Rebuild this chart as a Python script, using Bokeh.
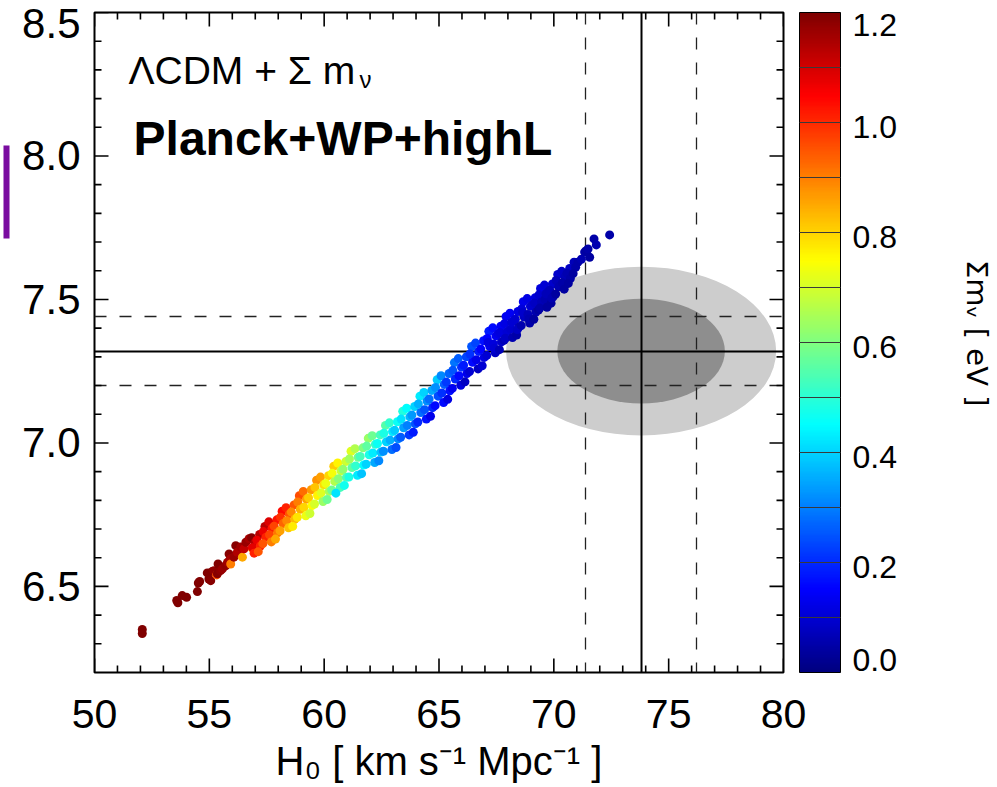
import math
from bokeh.plotting import figure
from bokeh.models import (ColumnDataSource, LinearColorMapper, ColorBar, FixedTicker, LinearAxis,
                          PrintfTickFormatter, Label, Range1d)
from bokeh.transform import transform
from bokeh.embed import file_html
from bokeh.resources import INLINE

# ---------------- data ----------------
# MCMC samples: H0 [km/s/Mpc], y-quantity, sum of neutrino masses [eV]
h0 = [
    52.08, 52.08, 53.58, 53.63, 53.82, 54.01, 54.48, 54.52, 54.58, 54.91,
    54.98, 55.06, 55.13, 55.20, 55.32, 55.35, 55.38, 55.49, 55.57, 55.71,
    55.79, 55.86, 55.93, 55.93, 56.07, 56.15, 56.22, 56.37, 56.44, 56.51,
    56.59, 56.73, 56.88,
    56.84, 56.98, 56.87, 56.95,
    57.19, 57.07, 57.22, 57.13,
    57.42, 57.35, 57.46, 57.33,
    57.59, 57.73, 57.62, 57.70,
    57.94, 57.82, 57.97, 57.88,
    58.17, 58.10, 58.21, 58.08,
    58.34, 58.48, 58.37, 58.45,
    58.69, 58.57, 58.72, 58.63,
    58.92, 58.85, 58.96, 58.83,
    59.09, 59.23, 59.12, 59.20,
    59.44, 59.32, 59.47, 59.38,
    59.67, 59.60, 59.71, 59.58,
    59.84, 59.98, 59.87, 59.95,
    60.19, 60.07, 60.22, 60.13,
    60.42, 60.35, 60.46, 60.33,
    60.59, 60.73, 60.62, 60.70,
    60.94, 60.82, 60.97, 60.88,
    61.17, 61.10, 61.21, 61.08,
    61.34, 61.48, 61.37, 61.45,
    61.69, 61.57, 61.72, 61.63,
    61.92, 61.85, 61.96, 61.83,
    62.09, 62.23, 62.12, 62.20,
    62.44, 62.32, 62.47, 62.38,
    62.67, 62.60, 62.71, 62.58,
    62.84, 62.98, 62.87, 62.95,
    63.19, 63.07, 63.22, 63.13,
    63.42, 63.35, 63.46, 63.33,
    63.59, 63.73, 63.62, 63.70,
    63.94, 63.82, 63.97, 63.88,
    64.17, 64.10, 64.21, 64.08,
    64.34, 64.48, 64.37, 64.45,
    64.69, 64.57, 64.72, 64.63,
    64.92, 64.85, 64.96, 64.83,
    65.09, 65.23, 65.12, 65.20,
    65.44, 65.32, 65.47, 65.38,
    65.67, 65.60, 65.71, 65.58,
    65.84, 65.98, 65.87, 65.95,
    66.19, 66.07, 66.22, 66.13,
    66.42, 66.35, 66.46, 66.33,
    66.59, 66.73, 66.62, 66.70,
    66.94, 66.82, 66.97, 66.88,
    67.17, 67.10, 67.21, 67.08, 67.14,
    67.34, 67.48, 67.37, 67.45, 67.40,
    67.69, 67.57, 67.72, 67.63, 67.66,
    67.92, 67.85, 67.96, 67.83, 67.89,
    68.09, 68.23, 68.12, 68.20, 68.16,
    68.44, 68.32, 68.47, 68.38, 68.41,
    68.67, 68.60, 68.71, 68.58, 68.64,
    68.84, 68.98, 68.87, 68.95, 68.91,
    69.19, 69.07, 69.22, 69.13, 69.16,
    69.42, 69.35, 69.46, 69.33, 69.39,
    69.59, 69.73, 69.62, 69.70, 69.66,
    69.94, 69.82, 69.97, 69.88, 69.91,
    70.17, 70.10, 70.21, 70.08,
    70.34, 70.48, 70.37, 70.45,
    70.69, 70.57, 70.72, 70.63,
    70.88, 70.95, 70.84,
    71.05, 71.20, 71.34, 71.41, 71.49, 71.56, 71.75, 71.85, 72.43,
    60.51,
]
yq = [
    6.350, 6.336, 6.451, 6.443, 6.468, 6.462, 6.482, 6.512, 6.517, 6.547,
    6.526, 6.520, 6.552, 6.555, 6.540, 6.544, 6.578, 6.555, 6.561, 6.572,
    6.584, 6.613, 6.596, 6.578, 6.602, 6.642, 6.619, 6.637, 6.602, 6.631,
    6.654, 6.666, 6.631,
    6.670, 6.652, 6.635, 6.616,
    6.681, 6.661, 6.641, 6.621,
    6.709, 6.691, 6.671, 6.649,
    6.725, 6.703, 6.680, 6.655,
    6.732, 6.710, 6.687, 6.665,
    6.762, 6.741, 6.719, 6.694,
    6.774, 6.752, 6.729, 6.704,
    6.784, 6.759, 6.734, 6.709,
    6.816, 6.794, 6.769, 6.741,
    6.831, 6.804, 6.776, 6.746,
    6.837, 6.809, 6.782, 6.754,
    6.870, 6.845, 6.817, 6.787,
    6.881, 6.854, 6.826, 6.796,
    6.886, 6.859, 6.831, 6.803,
    6.919, 6.894, 6.866, 6.836,
    6.930, 6.903, 6.875, 6.845,
    6.935, 6.908, 6.880, 6.852,
    6.971, 6.944, 6.914, 6.881,
    6.980, 6.950, 6.920, 6.887,
    6.983, 6.953, 6.923, 6.893,
    7.016, 6.989, 6.959, 6.926,
    7.025, 6.995, 6.965, 6.932,
    7.028, 6.998, 6.968, 6.938,
    7.061, 7.034, 7.004, 6.971,
    7.070, 7.040, 7.010, 6.977,
    7.074, 7.044, 7.014, 6.984,
    7.110, 7.083, 7.053, 7.020,
    7.121, 7.091, 7.061, 7.028,
    7.127, 7.097, 7.067, 7.037,
    7.163, 7.136, 7.106, 7.073,
    7.176, 7.146, 7.116, 7.083,
    7.183, 7.153, 7.123, 7.093,
    7.220, 7.193, 7.163, 7.130,
    7.234, 7.204, 7.174, 7.141,
    7.242, 7.212, 7.182, 7.152,
    7.280, 7.253, 7.223, 7.190,
    7.294, 7.264, 7.234, 7.201,
    7.300, 7.271, 7.242, 7.213,
    7.336, 7.310, 7.281, 7.249,
    7.348, 7.319, 7.290, 7.258,
    7.356, 7.327, 7.298, 7.269,
    7.389, 7.364, 7.336, 7.305, 7.350,
    7.401, 7.373, 7.345, 7.314, 7.330,
    7.407, 7.380, 7.352, 7.325, 7.385,
    7.441, 7.416, 7.388, 7.358, 7.365,
    7.452, 7.425, 7.397, 7.367, 7.420,
    7.458, 7.431, 7.403, 7.376, 7.395,
    7.492, 7.467, 7.439, 7.409, 7.455,
    7.503, 7.476, 7.448, 7.418, 7.432,
    7.506, 7.481, 7.456, 7.431, 7.488,
    7.538, 7.516, 7.491, 7.463, 7.470,
    7.550, 7.525, 7.500, 7.473, 7.520,
    7.554, 7.532, 7.509, 7.487, 7.505,
    7.587, 7.566, 7.544, 7.519,
    7.598, 7.578, 7.558, 7.536,
    7.608, 7.591, 7.573, 7.556,
    7.630, 7.612, 7.590,
    7.630, 7.640, 7.665, 7.670, 7.676, 7.647, 7.711, 7.690, 7.725,
    6.825,
]
mnu = [
    1.20, 1.20, 1.20, 1.20, 1.20, 1.20, 1.20, 1.20, 1.20, 1.20,
    1.20, 1.19, 1.20, 1.18, 0.95, 1.19, 1.20, 1.18, 1.17, 1.18,
    1.16, 1.19, 1.15, 0.90, 1.17, 1.19, 1.14, 1.16, 0.85, 1.12,
    1.17, 1.15, 0.80,
    1.19, 1.14, 1.08, 1.01,
    1.13, 1.07, 1.01, 0.95,
    1.13, 1.07, 1.01, 0.95,
    1.09, 1.03, 0.97, 0.90,
    1.03, 0.97, 0.91, 0.85,
    1.04, 0.99, 0.93, 0.86,
    1.01, 0.95, 0.89, 0.82,
    0.95, 0.89, 0.83, 0.77,
    0.96, 0.90, 0.84, 0.78,
    0.92, 0.86, 0.80, 0.73,
    0.87, 0.81, 0.75, 0.69,
    0.88, 0.82, 0.76, 0.70,
    0.86, 0.79, 0.71, 0.63,
    0.80, 0.73, 0.65, 0.58,
    0.81, 0.74, 0.66, 0.58,
    0.76, 0.68, 0.61, 0.53,
    0.69, 0.62, 0.54, 0.47,
    0.71, 0.64, 0.56, 0.48,
    0.66, 0.58, 0.51, 0.43,
    0.60, 0.53, 0.45, 0.38,
    0.63, 0.56, 0.48, 0.40,
    0.58, 0.51, 0.43, 0.35,
    0.53, 0.46, 0.38, 0.31,
    0.55, 0.48, 0.40, 0.32,
    0.51, 0.43, 0.36, 0.28,
    0.46, 0.39, 0.31, 0.24,
    0.49, 0.42, 0.34, 0.26,
    0.45, 0.37, 0.30, 0.22,
    0.40, 0.33, 0.25, 0.18,
    0.43, 0.36, 0.28, 0.20,
    0.40, 0.32, 0.25, 0.17,
    0.35, 0.28, 0.20, 0.13,
    0.39, 0.32, 0.24, 0.16,
    0.31, 0.26, 0.21, 0.16,
    0.27, 0.22, 0.17, 0.12,
    0.29, 0.25, 0.20, 0.14,
    0.26, 0.21, 0.16, 0.11,
    0.23, 0.18, 0.13, 0.08,
    0.25, 0.21, 0.16, 0.10,
    0.23, 0.18, 0.13, 0.08,
    0.17, 0.15, 0.12, 0.10,
    0.18, 0.15, 0.13, 0.10, 0.12,
    0.16, 0.14, 0.11, 0.08, 0.10,
    0.14, 0.12, 0.09, 0.07, 0.11,
    0.14, 0.12, 0.10, 0.07, 0.08,
    0.14, 0.11, 0.09, 0.06, 0.10,
    0.12, 0.10, 0.07, 0.05, 0.08,
    0.13, 0.11, 0.08, 0.06, 0.09,
    0.12, 0.10, 0.07, 0.05, 0.06,
    0.11, 0.09, 0.06, 0.04, 0.08,
    0.11, 0.09, 0.07, 0.04, 0.05,
    0.10, 0.08, 0.06, 0.04, 0.07,
    0.09, 0.07, 0.05, 0.04, 0.06,
    0.09, 0.07, 0.06, 0.04,
    0.08, 0.07, 0.05, 0.04,
    0.08, 0.06, 0.05, 0.04,
    0.07, 0.05, 0.04,
    0.05, 0.06, 0.05, 0.04, 0.05, 0.04, 0.05, 0.06, 0.05,
    0.42,
]

# local H0 measurement and the y-quantity constraint (centre, 1-sigma)
h0_obs, h0_err = 73.8, 2.4
yq_obs, yq_err = 7.32, 0.12
contour_scale = [2.45, 1.52]          # 2-sigma, 1-sigma ellipse semi-axes in units of sigma
contour_colors = ["#cdcdcd", "#8e8e8e"]

x_major_ticks = [50, 55, 60, 65, 70, 75, 80]
y_major_ticks = [6.5, 7.0, 7.5, 8.0, 8.5]
cb_ticks = [0.0, 0.2, 0.4, 0.6, 0.8, 1.0, 1.2]

X_LO, X_HI = 50, 80
Y_LO, Y_HI = 6.2, 8.5
M_LO, M_HI = 0.0, 1.2


def jet(n):
    out = []
    for i in range(n):
        t = i / (n - 1)
        r = min(1.0, max(0.0, 1.5 - abs(4 * t - 3)))
        g = min(1.0, max(0.0, 1.5 - abs(4 * t - 2)))
        b = min(1.0, max(0.0, 1.5 - abs(4 * t - 1)))
        out.append("#%02x%02x%02x" % (round(r * 255), round(g * 255), round(b * 255)))
    return out


FONT = "Liberation Sans"
W, H = 997, 785
FRAME_W, FRAME_H = 689, 660

p = figure(width=W, height=H, x_range=Range1d(X_LO, X_HI), y_range=Range1d(Y_LO, Y_HI),
           output_backend="svg", toolbar_location=None,
           min_border_left=94, min_border_right=W - 94 - FRAME_W,
           min_border_top=12, min_border_bottom=H - 12 - FRAME_H)
p.xgrid.visible = False
p.ygrid.visible = False
p.outline_line_color = "black"
p.outline_line_width = 2
p.background_fill_color = "white"
p.border_fill_color = "white"

mapper = LinearColorMapper(palette=jet(256), low=M_LO, high=M_HI)

# confidence ellipses
for k, col in zip(contour_scale, contour_colors):
    p.ellipse(x=[h0_obs], y=[yq_obs], width=[2 * k * h0_err], height=[2 * k * yq_err],
              fill_color=col, line_color=None)

# measurement lines
p.vspan(x=[h0_obs], line_color="black", line_width=2)
p.hspan(y=[yq_obs], line_color="black", line_width=2)
p.vspan(x=[h0_obs - h0_err, h0_obs + h0_err], line_color="#222222", line_width=1.3, line_dash="12 13")
p.hspan(y=[yq_obs - yq_err, yq_obs + yq_err], line_color="#222222", line_width=1.3, line_dash="12 13")

# inward tick marks on all four sides (drawn as short segments)
x_minor = [v for v in range(X_LO + 1, X_HI) if v % 5]
y_minor = [round(Y_LO + 0.1 * i, 1) for i in range(1, 23)]
y_minor = [v for v in y_minor if v not in y_major_ticks]
MAJ, MIN = 14, 7                                  # tick lengths in pixels
DX = (X_HI - X_LO) / FRAME_W                      # data units per pixel
DY = (Y_HI - Y_LO) / FRAME_H
tx0, tx1, ty0, ty1 = [], [], [], []
for ys, ln in ((y_major_ticks, MAJ), (y_minor, MIN)):
    for v in ys:
        tx0 += [X_LO, X_HI - ln * DX]
        tx1 += [X_LO + ln * DX, X_HI]
        ty0 += [v, v]
        ty1 += [v, v]
for xs, ln in ((x_major_ticks, MAJ), (x_minor, MIN)):
    for v in xs:
        tx0 += [v, v]
        tx1 += [v, v]
        ty0 += [Y_LO, Y_HI - ln * DY]
        ty1 += [Y_LO + ln * DY, Y_HI]
p.segment(x0=tx0, y0=ty0, x1=tx1, y1=ty1, line_color="black", line_width=1.6)

src = ColumnDataSource(dict(h0=h0, yq=yq, mnu=mnu))
p.scatter(x="h0", y="yq", source=src, marker="circle", size=9,
          fill_color=transform("mnu", mapper), line_color=None)


def style_axis(ax, size):
    ax.axis_line_color = None
    ax.major_tick_in = 0
    ax.major_tick_out = 0
    ax.minor_tick_in = 0
    ax.minor_tick_out = 0
    ax.major_tick_line_color = None
    ax.minor_tick_line_color = None
    ax.major_label_text_font = FONT
    ax.major_label_text_font_size = size
    ax.major_label_text_color = "black"


xa = p.xaxis[0]
xa.ticker = FixedTicker(ticks=x_major_ticks)
style_axis(xa, "41px")
xa.major_label_standoff = 27
xa.axis_label = "H₀ [ km s⁻¹ Mpc⁻¹ ]"
xa.axis_label_text_font = FONT
xa.axis_label_text_font_size = "40px"
xa.axis_label_text_font_style = "normal"
xa.axis_label_text_color = "black"
xa.axis_label_standoff = 8

# y tick labels; the top one is nudged inside the frame extent as in the original
TOP_NUDGE = 0.038
ya = p.yaxis[0]
ya.ticker = FixedTicker(ticks=[v if v < Y_HI else v - TOP_NUDGE for v in y_major_ticks])
style_axis(ya, "42px")
ya.formatter = PrintfTickFormatter(format="%.1f")
ya.major_label_standoff = 14

# colour bar: labels slightly below their level, end labels kept inside the bar
span = M_HI - M_LO
cb_label_pos = []
for v in cb_ticks:
    if v == M_HI:
        cb_label_pos.append(v - 0.022 * span / 1.2)
    elif v == M_LO:
        cb_label_pos.append(v + 0.022 * span / 1.2)
    else:
        cb_label_pos.append(v - 0.009 * span / 1.2)
cb_levels = [round(M_LO + 0.1 * i, 1) for i in range(1, 12)]

cb = ColorBar(color_mapper=mapper, ticker=FixedTicker(ticks=cb_label_pos, minor_ticks=cb_levels),
              formatter=PrintfTickFormatter(format="%.1f"),
              width=41, height=FRAME_H, margin=0, padding=0, label_standoff=12,
              major_label_text_font=FONT, major_label_text_font_size="32px",
              major_label_text_color="black",
              major_tick_in=0, major_tick_out=0, major_tick_line_color=None,
              minor_tick_in=41, minor_tick_out=0, minor_tick_line_color="#3a3a3a", minor_tick_line_width=1,
              bar_line_color="black", bar_line_width=1, border_line_color=None,
              background_fill_alpha=0, location=(16, 0))
p.add_layout(cb, "right")

# colour-bar title: label of an otherwise empty axis placed after the colour bar
cb_title = LinearAxis(ticker=FixedTicker(ticks=[]), axis_line_color=None,
                      major_tick_line_color=None, minor_tick_line_color=None,
                      major_tick_in=0, major_tick_out=0, minor_tick_in=0, minor_tick_out=0,
                      axis_label="Σmᵥ   [ eV ]", axis_label_standoff=60,
                      axis_label_text_font="DejaVu Sans", axis_label_text_font_size="29px",
                      axis_label_text_font_style="normal", axis_label_text_color="black")
p.add_layout(cb_title, "right")

# purple fragment of the (cropped-away) y-axis title visible at the far left edge
frag_mapper = LinearColorMapper(palette=["#7a0ca0"], low=0, high=1)
frag = ColorBar(color_mapper=frag_mapper, ticker=FixedTicker(ticks=[]), width=6, height=93,
                margin=0, padding=0, label_standoff=0, major_tick_line_color=None,
                minor_tick_line_color=None, bar_line_color=None, border_line_color=None,
                background_fill_alpha=0, location=(-16, 434))
p.add_layout(frag, "left")

# in-plot annotations
p.add_layout(Label(x=51.48, y=8.298, text="ΛCDM + Σ m", text_align="left", text_baseline="alphabetic",
                   text_font=FONT, text_font_size="39px", text_color="black"))
p.add_layout(Label(x=61.54, y=8.2665, text="ν", text_align="left", text_baseline="alphabetic",
                   text_font=FONT, text_font_size="24px", text_color="black"))
p.add_layout(Label(x=51.70, y=8.061, text="Planck+WP+highL", text_align="left", text_baseline="alphabetic",
                   text_font=FONT, text_font_size="48px", text_font_style="bold", text_color="black"))

open("out.html", "w").write(file_html(p, INLINE))
